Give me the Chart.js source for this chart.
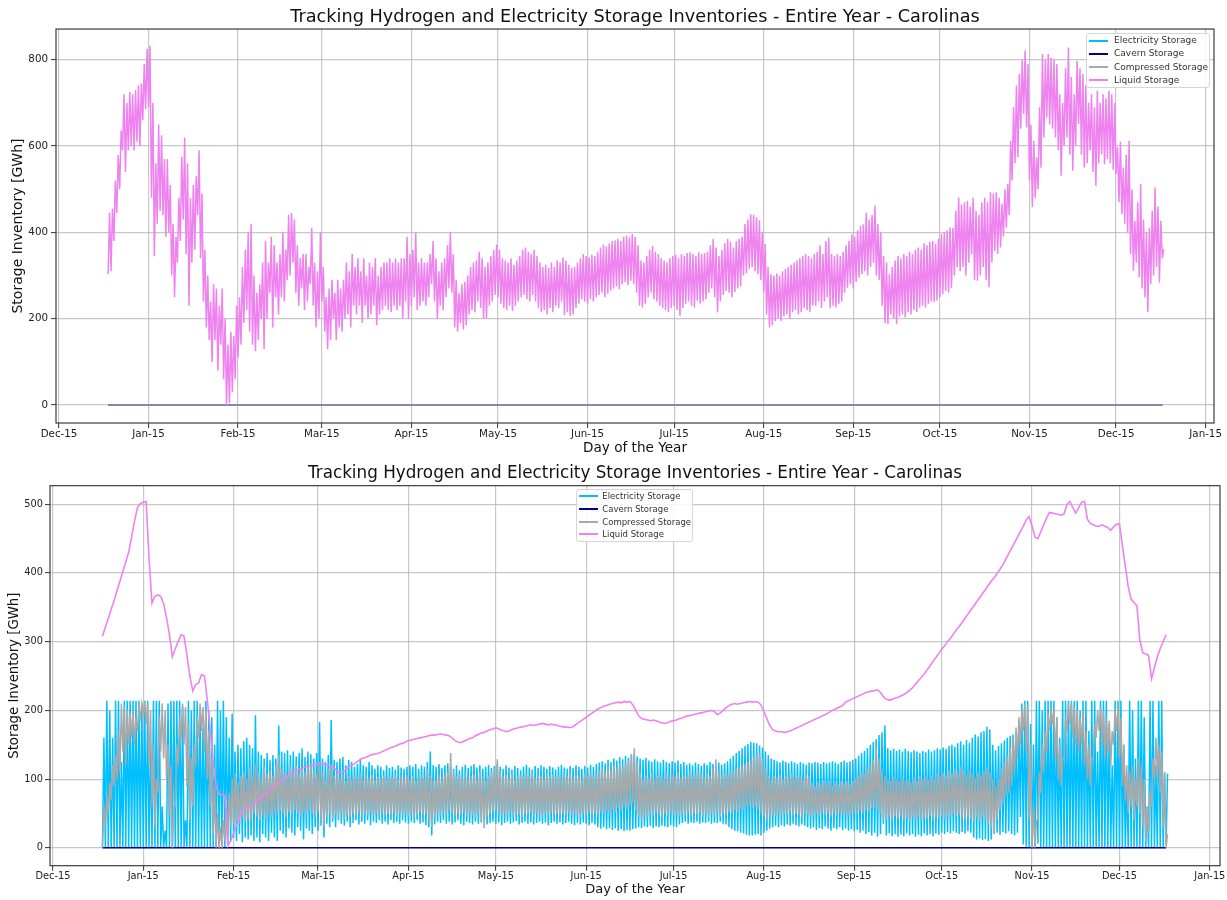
<!DOCTYPE html>
<html>
<head>
<meta charset="utf-8">
<title>Storage Inventories - Carolinas</title>
<script src="https://cdn.jsdelivr.net/npm/chart.js"></script>
<style>
  html, body { margin: 0; padding: 0; background: #ffffff; }
  body { width: 1227px; height: 900px; position: relative; overflow: hidden; font-family: 'DejaVu Sans', sans-serif; }
  canvas { position: absolute; left: 0; }
  #upper { top: 0; }
  #lower { top: 455px; }
  .legend { position: absolute; box-sizing: border-box; background: rgba(255,255,255,0.85); border: 1px solid #d6d6d6; border-radius: 3px; }
  .legend .sw { position: absolute; height: 2px; }
  .legend .txt { position: absolute; white-space: nowrap; color: #333; }
</style>
</head>
<body>
<canvas id="upper" width="1227" height="460"></canvas>
<canvas id="lower" width="1227" height="445"></canvas>
<script>
// ---- shared labels ----
const chartTitle = 'Tracking Hydrogen and Electricity Storage Inventories - Entire Year - Carolinas';
const xTitle = 'Day of the Year';
const yTitle = 'Storage Inventory [GWh]';
const seriesNames = ['Electricity Storage', 'Cavern Storage', 'Compressed Storage', 'Liquid Storage'];
const seriesColors = ['#00bfff', '#00008b', '#a9a9a9', '#ee82ee'];

// x positions are days counted from 1 January; month ticks fall on the 15th
const tickDays = [-17, 14, 45, 74, 105, 135, 166, 196, 227, 258, 288, 319, 349, 380];
const tickLabels = ['Dec-15', 'Jan-15', 'Feb-15', 'Mar-15', 'Apr-15', 'May-15', 'Jun-15', 'Jul-15',
                    'Aug-15', 'Sep-15', 'Oct-15', 'Nov-15', 'Dec-15', 'Jan-15'];

// ---- upper panel ----
const upperYTicks = [0, 200, 400, 600, 800];
const flatDays = [0, 365];
const upperElectricity = [0, 0];
const upperCavern = [0, 0];
const upperCompressed = [0, 0];
// liquid storage: daily low and daily high (GWh)
const upperLiquidLow = [
  303,310,380,445,500,590,540,590,600,590,
  610,600,660,685,690,480,345,420,450,440,
  390,400,300,250,330,380,430,350,230,330,
  360,440,340,240,180,150,100,150,80,140,
  60,0,5,30,60,110,140,190,220,170,
  140,125,150,200,130,200,260,180,250,210,
  250,240,290,300,330,260,230,270,220,240,
  280,230,180,200,240,170,130,150,200,150,
  180,170,200,210,180,230,210,230,190,230,
  200,210,230,185,210,220,230,220,215,230,
  220,230,200,240,200,230,250,220,230,240,
  230,250,280,240,200,230,220,250,270,260,
  180,170,190,175,185,210,220,215,240,225,
  200,200,230,240,255,250,235,225,220,230,
  218,230,240,250,255,245,240,255,240,225,
  215,220,210,225,215,230,225,240,208,215,
  207,210,225,235,245,240,235,245,240,250,
  255,260,250,258,265,270,275,268,280,285,
  278,288,280,260,230,226,235,250,260,245,
  240,230,225,220,215,225,230,220,207,225,
  235,240,230,226,242,235,240,245,260,270,
  250,215,240,255,265,260,250,262,270,275,
  300,305,315,320,310,303,290,260,210,180,
  185,195,200,195,205,210,200,215,220,210,
  215,225,220,215,230,230,240,225,240,250,
  225,230,226,235,240,260,272,280,270,285,
  295,303,310,300,320,330,300,290,230,190,
  188,210,200,188,205,210,203,215,210,220,
  215,226,230,226,235,240,238,242,250,257,
  265,260,272,300,319,310,320,300,330,350,
  290,288,300,320,290,273,330,357,350,365,
  390,411,440,520,560,574,640,674,643,520,
  458,480,500,550,620,666,650,640,620,590,
  531,600,620,580,543,600,651,580,550,560,
  590,540,508,560,581,558,570,560,545,535,
  470,442,420,400,350,311,330,296,270,249,
  215,280,300,320,284,340
];
const upperLiquidHigh = [
  446,455,520,580,636,720,700,725,720,730,
  740,745,790,825,832,700,560,650,625,570,
  570,510,420,390,480,575,620,560,480,510,
  530,590,490,360,300,240,280,270,230,270,
  200,140,170,160,230,250,320,360,400,420,
  300,260,280,330,380,330,390,370,330,350,
  400,360,440,445,430,370,340,350,350,320,
  410,330,310,400,320,250,270,290,260,290,
  270,290,330,310,350,320,340,310,340,300,
  330,320,340,300,320,330,330,340,330,340,
  330,340,340,390,350,360,400,330,340,330,
  330,350,380,340,310,330,340,370,400,350,
  290,260,280,285,300,320,330,335,355,340,
  320,330,345,360,372,360,340,335,330,340,
  325,335,345,360,365,355,350,360,345,330,
  320,325,318,330,320,335,330,342,335,325,
  318,320,330,340,350,345,342,348,345,355,
  365,372,368,374,380,382,385,380,390,392,
  388,396,390,370,335,330,345,360,369,355,
  350,340,335,330,340,345,348,340,350,345,
  352,354,350,345,354,350,352,355,370,385,
  365,345,360,375,385,378,365,380,385,390,
  420,430,442,440,435,428,400,373,320,303,
  300,305,300,310,315,320,325,330,335,340,
  345,350,345,340,350,355,370,350,380,388,
  350,345,350,345,355,370,380,395,390,405,
  415,419,446,430,440,462,420,400,345,330,
  303,320,335,345,340,350,345,355,350,360,
  365,360,375,370,378,380,373,385,396,400,
  405,411,410,450,481,465,470,473,460,480,
  450,440,470,480,470,493,490,493,480,466,
  500,512,612,690,740,767,800,821,790,650,
  612,574,690,813,800,813,805,801,790,720,
  700,780,828,760,720,797,780,767,740,700,
  720,690,728,700,720,710,728,720,700,597,
  610,550,580,612,500,427,470,512,430,400,
  411,450,504,460,427,361
];

// ---- lower panel ----
const lowerYTicks = [0, 100, 200, 300, 400, 500];
const lowerCavern = [0, 0];
const lowerElectricityLow = [
  0,0,0,0,0,0,0,0,0,0,
  0,0,0,0,0,0,0,0,0,0,
  0,0,0,0,0,0,0,0,0,0,
  0,0,0,0,0,0,0,0,0,0,
  0,0,0,5,10,15,10,20,8,15,
  12,18,10,15,8,20,15,10,22,15,
  10,25,20,15,28,22,18,30,25,12,
  28,25,20,30,25,32,15,35,30,38,
  30,40,35,32,38,30,36,40,34,38,
  35,40,33,38,36,40,35,38,34,40,
  36,38,35,40,37,35,38,36,40,35,
  37,33,30,18,34,38,36,40,35,38,
  34,37,40,35,33,38,36,34,38,35,
  37,39,34,36,38,35,37,33,36,38,
  35,37,39,34,36,38,35,37,34,36,
  38,35,37,33,36,38,35,37,34,36,
  38,35,33,36,34,37,35,33,36,34,
  30,28,30,27,29,26,28,25,27,24,
  26,25,27,28,30,29,31,30,32,29,
  31,30,32,31,30,33,31,30,34,36,
  38,35,37,36,38,35,37,36,38,35,
  37,36,38,35,34,30,27,25,24,22,
  21,19,18,18,19,20,18,22,25,28,
  30,32,30,33,31,34,32,35,33,31,
  34,32,30,28,30,26,29,27,31,28,
  25,29,27,30,26,28,25,27,24,26,
  22,25,20,23,18,22,16,20,35,18,
  21,17,20,16,19,17,21,18,20,16,
  19,17,21,18,20,17,21,19,22,20,
  23,21,24,22,20,23,21,24,22,15,
  12,14,11,13,10,12,20,22,19,23,
  21,24,20,18,22,45,5,2,0,0,
  0,6,0,0,0,0,0,0,0,0,
  0,0,0,0,0,0,0,0,0,0,
  0,0,0,0,0,0,0,0,0,0,
  0,0,0,0,0,0,0,0,0,0,
  0,0,0,0,0,5
];
const lowerElectricityHigh = [
  160,214,200,160,214,214,125,214,214,214,
  214,214,214,210,214,214,150,214,214,214,
  60,25,210,214,214,214,214,205,40,214,
  200,214,214,200,175,214,200,190,150,214,
  200,214,190,160,195,140,150,145,155,160,
  150,145,193,140,135,130,138,128,135,130,
  178,140,138,142,135,140,133,138,145,132,
  140,136,130,138,183,130,125,135,186,128,
  125,130,132,120,128,125,118,122,130,120,
  118,125,120,115,120,118,113,120,116,118,
  114,120,117,115,118,120,118,122,115,120,
  118,125,140,120,118,122,116,120,123,118,
  115,120,113,118,121,116,119,122,117,120,
  115,118,121,116,119,123,118,115,120,117,
  114,119,116,113,118,121,117,114,119,116,
  120,118,115,119,117,114,118,121,117,115,
  119,116,120,118,115,119,117,121,118,122,
  124,126,123,128,125,130,127,132,129,134,
  131,136,137,133,130,128,131,127,125,129,
  126,124,128,125,123,126,124,127,122,125,
  121,123,120,124,122,119,123,121,125,122,
  120,124,121,123,126,130,134,138,141,145,
  148,151,154,153,152,149,146,140,135,130,
  128,126,124,127,125,123,126,124,122,125,
  123,121,124,123,125,124,122,125,123,124,
  126,124,122,125,127,124,126,128,130,134,
  138,141,145,150,154,158,164,168,178,145,
  142,144,141,143,140,144,141,139,142,140,
  138,141,139,143,140,142,145,143,146,144,
  148,150,147,152,155,150,157,153,160,165,
  162,168,170,176,172,150,142,148,152,156,
  160,163,165,167,170,210,214,214,180,150,
  214,214,200,214,214,214,214,190,160,214,
  214,214,214,214,214,200,214,214,170,214,
  214,140,214,214,214,180,120,214,214,214,
  150,100,214,200,130,214,214,190,60,214,
  214,120,214,214,110,108
];
const lowerCompressedLow = [
  0,30,50,70,90,100,110,140,120,150,
  160,150,170,190,195,180,120,60,30,80,
  140,130,100,50,0,60,120,160,150,90,
  40,60,120,160,170,140,100,60,20,0,
  0,0,10,20,30,35,40,35,45,38,
  42,40,50,45,40,48,42,50,45,52,
  48,55,50,45,52,48,55,50,46,52,
  48,55,50,45,52,40,30,45,50,42,
  48,45,50,42,48,45,50,47,52,46,
  50,48,52,46,50,48,51,47,50,48,
  52,46,50,48,51,46,50,45,48,52,
  47,50,40,30,45,50,47,52,48,55,
  50,46,50,48,52,46,50,48,45,50,
  40,29,45,50,52,55,50,46,50,48,
  52,47,50,48,45,50,48,52,46,50,
  48,45,50,47,52,48,50,46,50,48,
  52,47,50,48,45,50,48,52,47,50,
  48,52,50,54,50,56,52,58,54,60,
  56,62,65,55,45,40,48,45,50,47,
  52,48,45,50,47,52,48,50,46,50,
  48,52,47,50,48,52,46,50,45,50,
  48,52,46,50,48,52,50,55,52,58,
  55,60,62,58,60,56,50,45,40,45,
  48,46,50,47,50,48,52,47,50,48,
  45,50,48,45,48,50,46,52,48,50,
  45,50,47,52,48,50,46,50,52,48,
  54,50,55,52,58,60,55,50,40,42,
  45,40,46,42,45,40,44,38,45,42,
  46,40,44,42,46,40,45,43,47,42,
  48,45,50,46,48,44,40,45,42,38,
  44,40,46,42,35,28,21,40,55,65,
  75,80,90,110,130,150,170,140,40,0,
  0,40,80,110,140,170,180,130,100,90,
  130,170,180,160,150,140,150,120,100,90,
  130,160,170,150,130,140,120,150,170,130,
  90,70,50,60,40,60,50,30,10,20,
  60,100,110,80,30,0
];
const lowerCompressedHigh = [
  60,75,95,120,135,170,210,205,200,195,
  200,190,205,210,212,210,200,150,100,190,
  210,200,150,120,60,150,190,210,205,180,
  130,150,190,210,205,200,170,130,90,50,
  30,40,60,80,100,108,95,105,110,100,
  115,105,122,110,100,118,108,112,105,120,
  135,115,110,105,118,112,120,108,115,110,
  118,122,112,108,125,110,100,115,120,105,
  110,102,108,98,105,100,106,102,108,100,
  104,102,106,99,103,101,105,100,104,102,
  106,100,104,102,106,100,104,98,102,106,
  100,114,105,98,100,106,102,108,110,138,
  112,104,106,102,108,100,104,106,100,110,
  102,98,105,110,115,129,110,104,106,102,
  108,100,104,106,102,108,104,110,102,106,
  104,100,108,103,106,102,105,100,107,104,
  109,102,106,104,100,108,104,110,103,108,
  112,115,110,118,112,120,115,122,118,125,
  128,135,145,125,110,100,105,102,108,100,
  106,104,100,108,102,106,104,110,102,106,
  104,110,103,107,112,106,102,108,104,115,
  129,110,104,108,106,110,112,115,118,120,
  122,125,128,132,135,138,130,115,105,100,
  104,102,106,100,104,102,108,100,105,103,
  100,106,104,94,90,95,92,98,94,96,
  90,95,92,98,94,97,93,98,102,105,
  110,108,115,120,128,147,130,115,105,100,
  98,103,100,96,102,98,100,95,102,98,
  104,100,103,99,105,100,108,104,110,105,
  112,108,115,110,118,112,106,112,108,102,
  110,105,112,118,110,100,90,100,115,125,
  135,145,160,175,190,200,210,205,150,60,
  40,110,150,170,195,205,200,190,150,130,
  190,210,212,205,200,190,200,170,150,130,
  180,200,205,200,190,185,170,200,205,190,
  150,120,110,120,100,130,120,100,60,80,
  130,160,150,140,110,20
];
const lowerLiquid = [
  308,321,334,347,360,374,388,402,416,430,
  452,475,495,501,503,504,420,356,366,368,
  366,355,335,310,278,290,300,310,308,280,
  250,228,238,240,252,250,215,170,125,90,
  78,77,76,3,10,21,33,45,54,58,
  59,60,64,68,72,76,79,83,86,90,
  94,97,100,103,106,109,111,113,115,117,
  118,119,120,121,122,123,122,121,120,119,
  114,110,109,112,116,120,121,124,127,130,
  131,133,135,136,137,138,140,142,144,146,
  147,149,151,152,154,156,157,158,159,160,
  161,162,163,164,164,165,166,165,164,163,
  160,156,154,153,155,157,159,160,163,165,
  167,168,170,172,173,175,173,171,170,169,
  171,173,174,175,176,177,178,179,178,179,
  180,181,180,179,180,179,178,177,176,176,
  175,175,178,181,184,187,190,193,196,199,
  202,204,206,207,209,210,211,212,211,213,
  212,213,208,200,192,188,187,186,185,186,
  185,183,182,181,182,184,185,186,188,189,
  191,192,193,194,195,196,197,198,199,200,
  198,194,196,200,204,207,209,210,209,210,
  211,212,213,212,213,212,208,198,188,178,
  172,170,169,169,168,169,170,172,174,176,
  178,180,182,184,186,188,190,192,194,196,
  199,201,203,205,207,212,214,216,218,220,
  222,224,226,227,228,229,230,226,220,216,
  215,216,218,219,221,223,226,229,233,238,
  243,248,253,259,265,271,277,283,289,294,
  300,305,311,317,322,328,334,340,346,352,
  358,364,370,376,382,388,393,399,405,412,
  420,428,436,444,452,460,468,477,482,468,
  452,450,460,470,480,488,487,486,485,484,
  486,500,504,495,487,495,503,504,478,472,
  470,468,468,470,468,466,462,467,471,471,
  440,410,380,362,357,352,302,284,282,280,
  246,262,278,290,300,310
];

// ---- point builders ----
// one low and one high reading per day, half a day apart
function dailySwing(low, high) {
  const pts = [];
  low.forEach((v, d) => {
    pts.push({ x: d, y: v });
    pts.push({ x: d + 0.5, y: high[d] });
  });
  return pts;
}
function daily(values) { return values.map((v, d) => ({ x: d, y: v })); }
function pairs(days, values) { return days.map((d, i) => ({ x: d, y: values[i] })); }

function series(idx, data, width) {
  return {
    label: seriesNames[idx], data,
    borderColor: seriesColors[idx], backgroundColor: seriesColors[idx],
    borderWidth: width, pointRadius: 0, pointHoverRadius: 0, tension: 0, fill: false,
    order: 4 - idx
  };
}

const FONT = "'DejaVu Sans', sans-serif";
const GRID = 'rgba(176,176,180,0.7)';

const framePlugin = {
  id: 'frame',
  afterDraw(chart) {
    const { ctx, chartArea: a } = chart;
    ctx.save();
    ctx.strokeStyle = '#3c3c3c';
    ctx.lineWidth = 1.2;
    ctx.strokeRect(a.left, a.top, a.right - a.left, a.bottom - a.top);
    ctx.restore();
  }
};

function makeChart(canvasId, g, datasets) {
  return new Chart(document.getElementById(canvasId), {
    type: 'line',
    data: { datasets },
    options: {
      responsive: false, animation: false, devicePixelRatio: 1, events: [],
      layout: { padding: { left: 0, right: g.padRight, top: 0, bottom: 0 } },
      plugins: {
        legend: { display: false },
        tooltip: { enabled: false },
        title: {
          display: true, text: chartTitle, fullSize: false, color: '#111',
          font: { family: FONT, size: g.titleSize, weight: 'normal', lineHeight: 1.2 },
          padding: { top: g.titleTop, bottom: g.titleBottom }
        }
      },
      scales: {
        x: {
          type: 'linear', min: g.xMin, max: g.xMax,
          afterBuildTicks: s => { s.ticks = tickDays.map(v => ({ value: v })); },
          afterFit: s => { s.height = g.xAxisH; },
          ticks: {
            autoSkip: false, maxRotation: 0, minRotation: 0, padding: 0, color: '#222',
            font: { family: FONT, size: g.tickSize },
            callback: (v, i) => tickLabels[i]
          },
          grid: { color: GRID, lineWidth: 1.2, drawTicks: true, tickLength: 5, tickColor: '#333', tickWidth: 1 },
          border: { display: false },
          title: {
            display: true, text: xTitle, color: '#111',
            font: { family: FONT, size: g.labelSize, lineHeight: 1.2 },
            padding: { top: 0, bottom: g.xTitlePad }
          }
        },
        y: {
          type: 'linear', min: g.yMin, max: g.yMax,
          afterBuildTicks: s => { s.ticks = g.yTicks.map(v => ({ value: v })); },
          afterFit: s => { s.width = g.yAxisW; },
          ticks: {
            padding: g.yTickPad, color: '#222',
            font: { family: FONT, size: g.tickSize },
            callback: v => String(v)
          },
          grid: { color: GRID, lineWidth: 1.2, drawTicks: true, tickLength: 5, tickColor: '#333', tickWidth: 1 },
          border: { display: false },
          title: {
            display: true, text: yTitle, color: '#111',
            font: { family: FONT, size: g.yLabelSize, lineHeight: 1.2 },
            padding: { top: g.yTitlePad, bottom: 0 }
          }
        }
      }
    },
    plugins: [framePlugin]
  });
}

makeChart('upper', {
  padRight: 13, titleSize: 17.7, titleTop: 6.4, titleBottom: 1.4,
  xMin: -18.05, xMax: 382.9, xAxisH: 37, tickSize: 10.3, labelSize: 13.6, xTitlePad: 3,
  yMin: -41.5, yMax: 871, yTicks: upperYTicks, yAxisW: 56, yTickPad: 3, yLabelSize: 14, yTitlePad: 9.6
}, [
  series(0, pairs(flatDays, upperElectricity), 1.5),
  series(1, pairs(flatDays, upperCavern), 1.5),
  series(2, pairs(flatDays, upperCompressed), 1.5),
  series(3, dailySwing(upperLiquidLow, upperLiquidHigh), 1.5)
]);

makeChart('lower', {
  padRight: 7, titleSize: 16.8, titleTop: 9.0, titleBottom: 1.5,
  xMin: -18.0, xMax: 383.5, xAxisH: 34.3, tickSize: 9.8, labelSize: 13, xTitlePad: 2.1,
  yMin: -26, yMax: 527, yTicks: lowerYTicks, yAxisW: 50, yTickPad: 2, yLabelSize: 13.3, yTitlePad: 6.2
}, [
  series(0, dailySwing(lowerElectricityLow, lowerElectricityHigh), 1.5),
  series(1, pairs(flatDays, lowerCavern), 1.5),
  series(2, dailySwing(lowerCompressedLow, lowerCompressedHigh), 1.5),
  series(3, daily(lowerLiquid), 1.6)
]);

// ---- legends ----
function buildLegend(b) {
  const box = document.createElement('div');
  box.className = 'legend';
  Object.assign(box.style, { left: b.left + 'px', top: b.top + 'px', width: b.width + 'px', height: b.height + 'px' });
  seriesNames.forEach((name, i) => {
    const cy = b.rowTop + i * b.rowStep;
    const sw = document.createElement('div');
    sw.className = 'sw';
    Object.assign(sw.style, { left: b.swLeft + 'px', top: Math.round(cy - 1) + 'px', width: b.swWidth + 'px', background: seriesColors[i] });
    const tx = document.createElement('div');
    tx.className = 'txt';
    tx.textContent = name;
    Object.assign(tx.style, { left: b.textLeft + 'px', top: (cy - b.font * 0.6) + 'px', fontSize: b.font + 'px', lineHeight: (b.font * 1.2) + 'px' });
    box.appendChild(sw);
    box.appendChild(tx);
  });
  document.body.appendChild(box);
}
buildLegend({ left: 1086, top: 33, width: 124, height: 55, rowTop: 6.5, rowStep: 13.3, swLeft: 2, swWidth: 19, textLeft: 27, font: 9 });
buildLegend({ left: 576, top: 489, width: 117, height: 53, rowTop: 6, rowStep: 12.8, swLeft: 1.5, swWidth: 19, textLeft: 25.3, font: 8.5 });
</script>
</body>
</html>
